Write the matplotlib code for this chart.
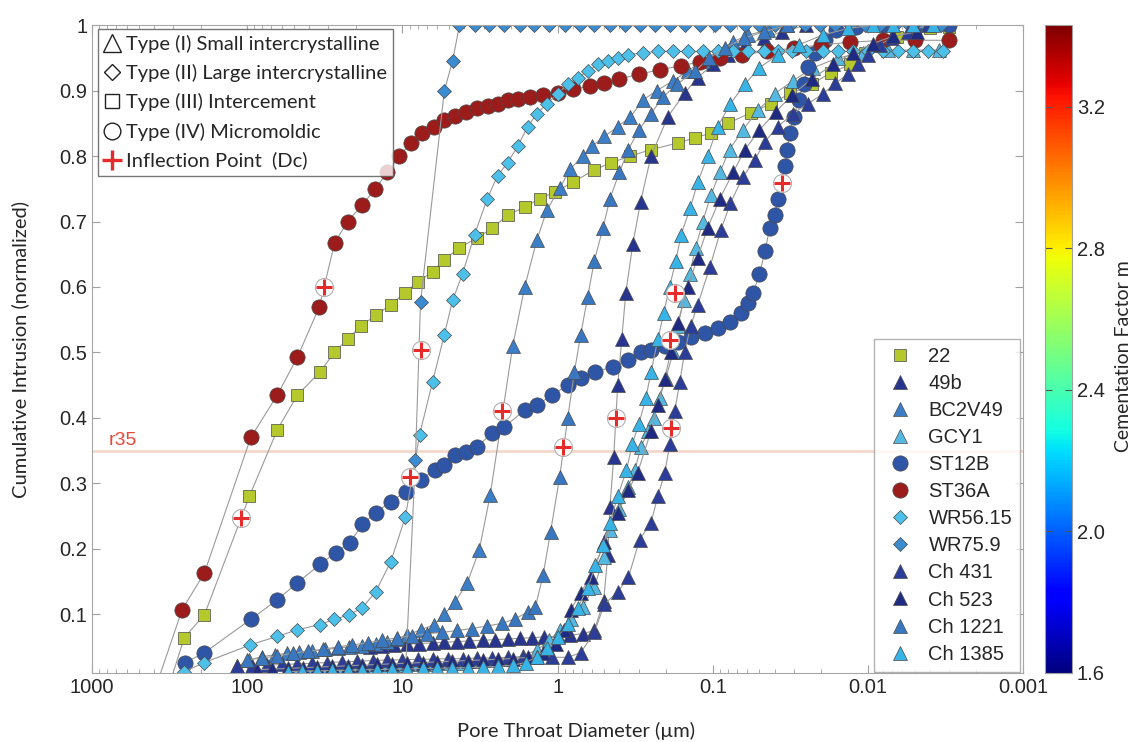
import numpy as np
import matplotlib
matplotlib.use('Agg')
import matplotlib.pyplot as plt
from matplotlib.lines import Line2D
from matplotlib import cm, colors

plt.rcParams['font.family'] = ['Liberation Sans', 'DejaVu Sans']

##-----     DATA (pore throat diameter in um, normalized cumulative intrusion)     -----
d_22 = [330, 255, 189, 97, 64, 47.5, 34, 27.5, 22.6, 18.6, 14.8, 11.9, 9.7, 8.0, 6.4, 5.4, 4.3, 3.3,
        2.63, 2.1, 1.63, 1.3, 1.04, 0.8, 0.58, 0.45, 0.34, 0.25, 0.168, 0.13, 0.103, 0.08, 0.057,
        0.042, 0.0316, 0.023, 0.0174, 0.013, 0.0105, 0.008, 0.0065, 0.005, 0.004, 0.003]
y_22 = [-0.02, 0.064, 0.099, 0.28, 0.382, 0.435, 0.47, 0.50, 0.52, 0.54, 0.557, 0.573, 0.59, 0.608,
        0.623, 0.641, 0.66, 0.675, 0.69, 0.71, 0.722, 0.735, 0.745, 0.76, 0.779, 0.79, 0.80, 0.81,
        0.82, 0.828, 0.835, 0.85, 0.866, 0.88, 0.896, 0.91, 0.927, 0.94, 0.957, 0.97, 0.982, 0.99,
        0.995, 0.998]

d_49b = [16.2, 13.5, 11.3, 9.3, 7.8, 6.4, 5.37, 4.44, 3.7, 3.03, 2.53, 2.1, 1.75, 1.46, 1.23, 1.0,
         0.83, 0.69, 0.58, 0.505, 0.475, 0.46, 0.435, 0.41, 0.386, 0.364, 0.328, 0.292, 0.25, 0.195,
         0.152, 0.125, 0.10, 0.08, 0.062, 0.047, 0.036, 0.025]
y_49b = [0.050, 0.052, 0.053, 0.054, 0.055, 0.056, 0.057, 0.058, 0.059, 0.060, 0.061, 0.062, 0.063,
         0.064, 0.065, 0.066, 0.068, 0.070, 0.075, 0.12, 0.19, 0.263, 0.34, 0.45, 0.52, 0.59, 0.665,
         0.73, 0.80, 0.86, 0.896, 0.92, 0.94, 0.955, 0.97, 0.98, 0.99, 1.0]

d_bc2v49 = [116, 97, 80.2, 65.9, 55.2, 46.4, 38.1, 31.4, 26.2, 22.0, 18.1, 14.9, 12.5, 10.8, 9.3, 7.65,
            6.22, 5.37, 4.59, 3.82, 3.20, 2.72, 1.95, 1.63, 1.36, 1.17, 0.97, 0.83, 0.69, 0.60, 0.50,
            0.41, 0.34, 0.28, 0.23, 0.18, 0.145, 0.116, 0.093, 0.074, 0.059, 0.044, 0.033]
y_bc2v49 = [0.020, 0.030, 0.035, 0.038, 0.040, 0.042, 0.044, 0.046, 0.048, 0.050, 0.052, 0.055, 0.058,
            0.062, 0.068, 0.076, 0.084, 0.100, 0.118, 0.148, 0.198, 0.282, 0.509, 0.600, 0.672, 0.718,
            0.751, 0.780, 0.800, 0.815, 0.830, 0.845, 0.860, 0.886, 0.900, 0.915, 0.930, 0.945, 0.960,
            0.975, 0.985, 0.993, 1.0]

d_gcy1 = [47.5, 38.1, 30.5, 24.5, 19.5, 15.6, 12.5, 10.0, 8.0, 6.4, 5.1, 4.1, 3.3, 2.63, 2.1, 1.68,
          1.36, 1.13, 0.97, 0.82, 0.69, 0.58, 0.50, 0.46, 0.404, 0.35, 0.318, 0.29, 0.26, 0.24, 0.22,
          0.201, 0.18, 0.168, 0.154, 0.141, 0.129, 0.116, 0.103, 0.090, 0.078, 0.064, 0.051, 0.040,
          0.0305, 0.0226, 0.0156, 0.0108, 0.0074, 0.0051, 0.0035]
y_gcy1 = [0.015, 0.016, 0.017, 0.018, 0.019, 0.020, 0.021, 0.022, 0.023, 0.024, 0.025, 0.026, 0.028,
          0.030, 0.032, 0.036, 0.045, 0.060, 0.075, 0.092, 0.111, 0.142, 0.188, 0.229, 0.260, 0.295,
          0.320, 0.356, 0.380, 0.400, 0.430, 0.460, 0.500, 0.540, 0.580, 0.620, 0.660, 0.700, 0.740,
          0.775, 0.810, 0.840, 0.870, 0.895, 0.915, 0.935, 0.950, 0.958, 0.962, 0.962, 0.962]

d_st12b = [300, 251, 189, 95, 64, 47.5, 34, 27, 21.9, 18.1, 14.9, 11.9, 9.55, 7.65, 6.2, 5.36, 4.6, 3.9,
           3.3, 2.63, 2.2, 1.63, 1.35, 1.08, 0.86, 0.71, 0.57, 0.44, 0.353, 0.29, 0.25, 0.204, 0.168,
           0.139, 0.113, 0.093, 0.077, 0.066, 0.059, 0.055, 0.05, 0.046, 0.043, 0.040, 0.038, 0.034,
           0.033, 0.032, 0.030, 0.028, 0.026, 0.0245, 0.022, 0.019, 0.016, 0.012, 0.008, 0.005, 0.003]
y_st12b = [-0.02, 0.026, 0.041, 0.092, 0.122, 0.148, 0.176, 0.194, 0.209, 0.237, 0.255, 0.272, 0.287,
           0.305, 0.32, 0.328, 0.343, 0.348, 0.356, 0.377, 0.386, 0.412, 0.42, 0.435, 0.45, 0.461,
           0.47, 0.478, 0.489, 0.50, 0.504, 0.51, 0.516, 0.524, 0.53, 0.537, 0.547, 0.56, 0.576, 0.59,
           0.62, 0.655, 0.69, 0.71, 0.735, 0.785, 0.81, 0.835, 0.86, 0.886, 0.91, 0.936, 0.957, 0.977,
           0.992, 0.997, 1.0, 1.0, 1.0]

d_st36a = [400, 263, 189, 95, 64, 47.5, 34.3, 27.4, 22.6, 18.2, 15, 12.5, 10.5, 8.8, 7.5, 6.3, 5.4, 4.6,
           3.9, 3.3, 2.8, 2.44, 2.1, 1.8, 1.5, 1.25, 1.0, 0.8, 0.62, 0.5, 0.4, 0.3, 0.22, 0.16, 0.12,
           0.09, 0.065, 0.045, 0.03, 0.02, 0.013, 0.008, 0.005, 0.003]
y_st36a = [-0.02, 0.107, 0.163, 0.37, 0.435, 0.493, 0.57, 0.667, 0.70, 0.725, 0.75, 0.775, 0.80, 0.82,
           0.835, 0.845, 0.855, 0.862, 0.868, 0.873, 0.877, 0.88, 0.885, 0.888, 0.891, 0.894, 0.897,
           0.902, 0.907, 0.912, 0.918, 0.925, 0.932, 0.938, 0.944, 0.95, 0.955, 0.96, 0.965, 0.97,
           0.974, 0.977, 0.977, 0.977]

d_wr5615 = [255, 189, 95.6, 64.1, 47.5, 34.2, 27.5, 22.0, 18.1, 14.9, 11.9, 9.57, 7.76, 6.4, 5.37, 4.75,
            4.1, 3.43, 2.84, 2.44, 2.1, 1.81, 1.56, 1.36, 1.17, 1.0, 0.86, 0.74, 0.64, 0.55, 0.475,
            0.41, 0.353, 0.283, 0.226, 0.18, 0.145, 0.116, 0.093, 0.074, 0.059, 0.047, 0.038, 0.031,
            0.025, 0.0195, 0.0156, 0.0125, 0.01, 0.008, 0.0064, 0.0051, 0.0041, 0.0033]
y_wr5615 = [0.012, 0.026, 0.053, 0.066, 0.076, 0.084, 0.092, 0.099, 0.110, 0.134, 0.180, 0.249, 0.374,
            0.455, 0.527, 0.580, 0.620, 0.680, 0.735, 0.770, 0.790, 0.815, 0.845, 0.865, 0.880, 0.895,
            0.910, 0.920, 0.930, 0.940, 0.945, 0.950, 0.955, 0.958, 0.960, 0.960, 0.960, 0.960, 0.960,
            0.960, 0.960, 0.960, 0.960, 0.960, 0.960, 0.960, 0.960, 0.960, 0.960, 0.960, 0.960, 0.960,
            0.960, 0.960]

d_wr759 = [9.7, 8.25, 7.65, 5.37, 4.75, 4.29, 3.43, 2.75, 2.2, 1.76, 1.41, 1.13, 0.90, 0.72, 0.58, 0.46,
           0.37, 0.296, 0.237, 0.189, 0.152, 0.121, 0.097, 0.078, 0.062, 0.050, 0.040, 0.032, 0.0255,
           0.0204, 0.0163, 0.0131, 0.0105, 0.0084, 0.0067, 0.0054, 0.0043, 0.0034]
y_wr759 = [-0.02, 0.336, 0.577, 0.900, 0.946, 1.0, 1.0, 1.0, 1.0, 1.0, 1.0, 1.0, 1.0, 1.0, 1.0, 1.0,
           1.0, 1.0, 1.0, 1.0, 1.0, 1.0, 1.0, 1.0, 1.0, 1.0, 1.0, 1.0, 1.0, 1.0, 1.0, 1.0, 1.0, 1.0,
           1.0, 1.0, 1.0, 1.0]

d_ch431 = [116, 93, 74.4, 59.4, 47.5, 38.1, 30.5, 24.5, 19.5, 15.6, 12.5, 10.0, 8.0, 6.4, 5.1, 4.1,
           3.3, 2.63, 2.1, 1.68, 1.36, 1.08, 0.86, 0.71, 0.58, 0.50, 0.41, 0.35, 0.296, 0.25, 0.226,
           0.204, 0.189, 0.176, 0.163, 0.152, 0.139, 0.125, 0.1045, 0.0887, 0.077, 0.064, 0.0536,
           0.0462, 0.038, 0.0305, 0.0244, 0.0195, 0.0163, 0.0135, 0.0116, 0.01, 0.0084, 0.0071,
           0.0055, 0.0041]
y_ch431 = [0.020, 0.021, 0.022, 0.023, 0.024, 0.025, 0.026, 0.027, 0.028, 0.029, 0.030, 0.030, 0.031,
           0.031, 0.032, 0.032, 0.033, 0.033, 0.034, 0.034, 0.034, 0.034, 0.034, 0.041, 0.072, 0.115,
           0.134, 0.156, 0.214, 0.240, 0.280, 0.316, 0.360, 0.410, 0.455, 0.500, 0.540, 0.573, 0.630,
           0.687, 0.728, 0.768, 0.794, 0.822, 0.845, 0.865, 0.880, 0.895, 0.911, 0.925, 0.940, 0.955,
           0.970, 0.980, 0.990, 1.0]

d_ch523 = [86, 69, 55, 44, 35.5, 28.3, 22.6, 18.1, 14.5, 11.6, 9.3, 7.4, 5.95, 4.77, 3.8, 3.03, 2.44,
           1.95, 1.56, 1.25, 1.03, 0.914, 0.82, 0.71, 0.612, 0.50, 0.41, 0.35, 0.305, 0.25, 0.226,
           0.204, 0.187, 0.168, 0.145, 0.125, 0.108, 0.09, 0.074, 0.062, 0.050, 0.039, 0.031, 0.023,
           0.0168, 0.0125, 0.0093, 0.0069, 0.0048]
y_ch523 = [0.015, 0.016, 0.017, 0.018, 0.019, 0.020, 0.021, 0.022, 0.023, 0.024, 0.025, 0.026, 0.027,
           0.028, 0.029, 0.030, 0.031, 0.032, 0.034, 0.040, 0.055, 0.075, 0.107, 0.133, 0.157, 0.210,
           0.255, 0.290, 0.316, 0.380, 0.420, 0.460, 0.500, 0.545, 0.600, 0.645, 0.690, 0.735, 0.775,
           0.810, 0.840, 0.868, 0.893, 0.918, 0.940, 0.958, 0.972, 0.983, 0.990]

d_ch1221 = [100, 80.2, 64.1, 51.1, 40.9, 32.7, 26.2, 21.0, 16.8, 13.5, 10.8, 8.66, 6.93, 5.55, 4.44,
            3.55, 2.84, 2.27, 1.87, 1.56, 1.39, 1.24, 1.11, 0.97, 0.86, 0.78, 0.71, 0.64, 0.58, 0.51,
            0.46, 0.40, 0.35, 0.30, 0.25, 0.21, 0.17, 0.13, 0.105, 0.084, 0.063, 0.047, 0.033]
y_ch1221 = [0.030, 0.033, 0.036, 0.040, 0.043, 0.046, 0.050, 0.053, 0.056, 0.060, 0.064, 0.067, 0.070,
            0.072, 0.075, 0.078, 0.082, 0.086, 0.093, 0.103, 0.111, 0.160, 0.226, 0.310, 0.400, 0.470,
            0.527, 0.585, 0.640, 0.690, 0.735, 0.775, 0.810, 0.840, 0.865, 0.890, 0.910, 0.930, 0.950,
            0.965, 0.980, 0.990, 1.0]

d_ch1385 = [55, 44.3, 35.5, 28.3, 22.6, 18.1, 14.5, 11.6, 9.3, 7.4, 5.95, 4.77, 3.8, 3.03, 2.44, 1.95,
            1.6, 1.36, 1.17, 1.0, 0.86, 0.74, 0.64, 0.57, 0.51, 0.46, 0.41, 0.36, 0.33, 0.30, 0.27,
            0.25, 0.226, 0.207, 0.19, 0.173, 0.16, 0.14, 0.125, 0.108, 0.093, 0.077, 0.062, 0.050,
            0.038, 0.028, 0.0195, 0.0135, 0.0093, 0.0069, 0.0051, 0.0038]
y_ch1385 = [0.012, 0.013, 0.013, 0.014, 0.014, 0.015, 0.015, 0.016, 0.016, 0.017, 0.017, 0.018, 0.018,
            0.019, 0.020, 0.022, 0.026, 0.035, 0.048, 0.065, 0.085, 0.110, 0.140, 0.175, 0.205, 0.240,
            0.280, 0.320, 0.360, 0.390, 0.430, 0.470, 0.520, 0.560, 0.600, 0.640, 0.680, 0.720, 0.760,
            0.800, 0.845, 0.880, 0.910, 0.935, 0.955, 0.970, 0.985, 0.995, 1.0, 1.0, 1.0, 1.0]

# inflection points (Dc)
dc_d = [110, 32, 9.0, 7.65, 2.27, 0.93, 0.42, 0.189, 0.187, 0.176, 0.036]
dc_y = [0.247, 0.60, 0.31, 0.504, 0.41, 0.356, 0.40, 0.519, 0.385, 0.59, 0.759]

samples = ['22', '49b', 'BC2V49', 'GCY1', 'ST12B', 'ST36A', 'WR56.15', 'WR75.9',
           'Ch 431', 'Ch 523', 'Ch 1221', 'Ch 1385']
d_all = [d_22, d_49b, d_bc2v49, d_gcy1, d_st12b, d_st36a, d_wr5615, d_wr759,
         d_ch431, d_ch523, d_ch1221, d_ch1385]
y_all = [y_22, y_49b, y_bc2v49, y_gcy1, y_st12b, y_st36a, y_wr5615, y_wr759,
         y_ch431, y_ch523, y_ch1221, y_ch1385]
mk_all = ['s', '^', '^', '^', 'o', 'o', 'D', 'D', '^', '^', '^', '^']
col_all = ['#b5c92c', '#27358e', '#3b7ec6', '#55b8e0', '#2f55a7', '#9c1b1b', '#4dc0ea', '#3b8bd0',
           '#2b3d99', '#1f2a82', '#3978c0', '#38b3e6']
ms_all = {'s': 8.5, '^': 10, 'o': 11, 'D': 7.2}

type_labels = ['Type (I) Small intercrystalline', 'Type (II) Large intercrystalline',
               'Type (III) Intercement', 'Type (IV) Micromoldic', 'Inflection Point  (Dc)']

##-----     FIGURE     -----
fig = plt.figure(figsize=(11.38, 7.42), dpi=100)
ax = fig.add_axes([0.081, 0.093, 0.818, 0.873])

for d, y, mk, c in zip(d_all, y_all, mk_all, col_all):
    ax.plot(d, y, '-', color='#9a9a9a', lw=0.8, marker=mk, ms=ms_all[mk],
            mfc=c, mec='#4a4a4a', mew=0.5)

# r35 line
ax.axhline(0.35, color='#f4d8cb', lw=2, zorder=1)
ax.text(780, 0.353, 'r35', color='#e8483c', fontsize=14, ha='left', va='bottom')

# inflection points
ax.plot(dc_d, dc_y, 'o', ms=13, mfc='white', mec='#b0b0b0', mew=0.8, ls='none', zorder=5)
ax.plot(dc_d, dc_y, '+', ms=12, color='#e62b2b', mew=2.2, ls='none', zorder=6)

ax.set_xscale('log')
ax.set_xlim(1000, 0.001)
ax.set_ylim(0.01, 1.0)
ax.set_xticks([1000, 100, 10, 1, 0.1, 0.01, 0.001])
ax.set_xticklabels(['1000', '100', '10', '1', '0.1', '0.01', '0.001'])
ax.set_yticks([0.1, 0.2, 0.3, 0.4, 0.5, 0.6, 0.7, 0.8, 0.9, 1.0])
ax.set_yticklabels(['0.1', '0.2', '0.3', '0.4', '0.5', '0.6', '0.7', '0.8', '0.9', '1'])
ax.tick_params(which='both', direction='in', top=True, right=True, colors='#a0a0a0',
               labelcolor='#262626', labelsize=14.5)
ax.tick_params(which='major', length=6)
ax.tick_params(which='minor', length=3)
for sp in ax.spines.values():
    sp.set_color('#a6a6a6')

ax.set_xlabel('Pore Throat Diameter (\u00b5m)', family=['Lato', 'DejaVu Sans'], fontsize=14.5,
              color='#262626')
ax.set_ylabel('Cumulative Intrusion (normalized)', family=['Lato', 'DejaVu Sans'], fontsize=14.5,
              color='#262626')
ax.xaxis.set_label_coords(0.52, -0.075)
ax.yaxis.set_label_coords(-0.068, 0.5)

# legend of pore types
h_types = [Line2D([], [], ls='none', marker='^', ms=13, mfc='none', mec='#222222', mew=1.0),
           Line2D([], [], ls='none', marker='D', ms=8.5, mfc='none', mec='#222222', mew=1.0),
           Line2D([], [], ls='none', marker='s', ms=10, mfc='none', mec='#222222', mew=1.0),
           Line2D([], [], ls='none', marker='o', ms=12, mfc='none', mec='#222222', mew=1.0),
           Line2D([], [], ls='none', marker='+', ms=14, color='#e62b2b', mew=2.4)]
leg1 = ax.legend(h_types, type_labels, loc='upper left', bbox_to_anchor=(0.0064, 0.994),
                 borderaxespad=0, frameon=True, fancybox=False, edgecolor='#555555',
                 prop={'family': ['Lato', 'DejaVu Sans'], 'size': 14.5}, handlelength=0.8,
                 handletextpad=0.3, labelspacing=0.55, borderpad=0.3)
leg1.get_frame().set_linewidth(1.0)
for t in leg1.get_texts():
    t.set_color('#262626')
ax.add_artist(leg1)

# legend of samples
h_samp = [Line2D([], [], ls='none', marker=mk, ms=ms_all[mk], mfc=c, mec='#4a4a4a', mew=0.5)
          for mk, c in zip(mk_all, col_all)]
leg2 = ax.legend(h_samp, samples, loc='lower right', bbox_to_anchor=(0.997, 0.002),
                 borderaxespad=0, frameon=True, fancybox=False, edgecolor='#a0a0a0',
                 fontsize=14.5, handlelength=1.8, handletextpad=0.5, labelspacing=0.4,
                 borderpad=0.4)
for t in leg2.get_texts():
    t.set_color('#262626')

##-----     COLORBAR     -----
cax = fig.add_axes([0.918, 0.093, 0.024, 0.873])
norm = colors.Normalize(vmin=1.6, vmax=3.43)
cb = fig.colorbar(cm.ScalarMappable(norm=norm, cmap='jet'), cax=cax)
cb.set_ticks([1.6, 2.0, 2.4, 2.8, 3.2])
cb.set_ticklabels(['1.6', '2.0', '2.4', '2.8', '3.2'])
cb.ax.tick_params(direction='in', length=5, colors='#555555', labelcolor='#262626', labelsize=14.5,
                  left=True, right=True)
cb.outline.set_edgecolor('#a0a0a0')
fig.text(0.987, 0.52, 'Cementation Factor m', rotation=90, ha='center', va='center',
         family=['Lato', 'DejaVu Sans'], fontsize=14, color='#262626')

fig.savefig('out.png', dpi=100)
plt.close()
